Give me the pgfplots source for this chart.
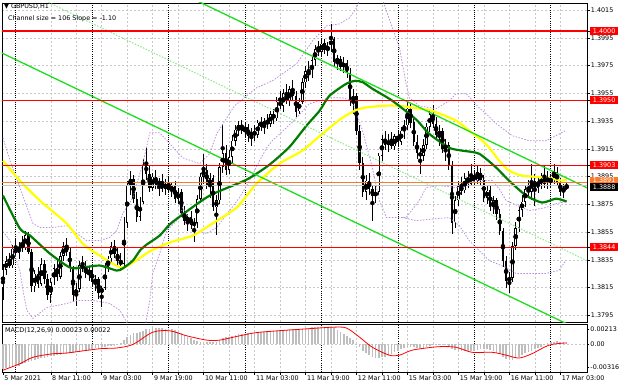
\documentclass[border=0pt]{standalone}
\usepackage{pgfplots}
\pgfplotsset{compat=1.18}
\usepackage{pgfplotstable}
\usepackage{fontspec}
\setmainfont{DejaVu Sans}
\definecolor{chgreen}{RGB}{30,220,30}
\definecolor{midgreen}{RGB}{140,235,140}
\definecolor{magreen}{RGB}{0,125,0}
\definecolor{mayellow}{RGB}{255,255,0}
\definecolor{bandc}{RGB}{185,140,225}
\definecolor{gridc}{RGB}{200,200,200}
\definecolor{boxorange}{RGB}{255,120,40}
\definecolor{histc}{RGB}{190,190,190}

\pgfplotstableread{
i o h l c
0 1.3815 1.3832 1.3806 1.3828
1 1.3828 1.3838 1.3824 1.3834
2 1.3834 1.3840 1.3829 1.3831
3 1.3831 1.3846 1.3829 1.3843
4 1.3843 1.3850 1.3838 1.3840
5 1.3840 1.3848 1.3836 1.3846
6 1.3846 1.3852 1.3841 1.3844
7 1.3844 1.3856 1.3842 1.3853
8 1.3853 1.3855 1.3839 1.3841
9 1.3841 1.3843 1.3812 1.3816
10 1.3816 1.3828 1.3812 1.3825
11 1.3825 1.3830 1.3815 1.3818
12 1.3818 1.3836 1.3816 1.3832
13 1.3832 1.3835 1.3818 1.3821
14 1.3821 1.3825 1.3806 1.3810
15 1.3810 1.3822 1.3804 1.3819
16 1.3819 1.3832 1.3817 1.3829
17 1.3829 1.3835 1.3820 1.3823
18 1.3823 1.3841 1.3821 1.3838
19 1.3838 1.3848 1.3834 1.3845
20 1.3845 1.3851 1.3838 1.3841
21 1.3841 1.3844 1.3826 1.3829
22 1.3829 1.3831 1.3805 1.3810
23 1.3810 1.3818 1.3802 1.3814
24 1.3814 1.3834 1.3812 1.3831
25 1.3831 1.3838 1.3826 1.3829
26 1.3829 1.3834 1.3822 1.3825
27 1.3825 1.3831 1.3820 1.3828
28 1.3828 1.3830 1.3816 1.3819
29 1.3819 1.3824 1.3813 1.3821
30 1.3821 1.3823 1.3807 1.3811
31 1.3811 1.3816 1.3801 1.3815
32 1.3815 1.3833 1.3813 1.3830
33 1.3830 1.3838 1.3826 1.3836
34 1.3836 1.3848 1.3833 1.3845
35 1.3845 1.3849 1.3836 1.3839
36 1.3839 1.3844 1.3831 1.3834
37 1.3834 1.3840 1.3827 1.3832
38 1.3832 1.3866 1.3830 1.3862
39 1.3862 1.3892 1.3858 1.3889
40 1.3889 1.3899 1.3882 1.3893
41 1.3893 1.3896 1.3876 1.3879
42 1.3879 1.3884 1.3862 1.3866
43 1.3866 1.3880 1.3863 1.3877
44 1.3877 1.3908 1.3875 1.3904
45 1.3904 1.3916 1.3893 1.3897
46 1.3897 1.3903 1.3884 1.3887
47 1.3887 1.3898 1.3885 1.3895
48 1.3895 1.3900 1.3886 1.3889
49 1.3889 1.3894 1.3881 1.3892
50 1.3892 1.3897 1.3884 1.3886
51 1.3886 1.3893 1.3882 1.3890
52 1.3890 1.3895 1.3883 1.3885
53 1.3885 1.3891 1.3880 1.3888
54 1.3888 1.3892 1.3876 1.3879
55 1.3879 1.3887 1.3875 1.3884
56 1.3884 1.3886 1.3866 1.3869
57 1.3869 1.3874 1.3860 1.3863
58 1.3863 1.3868 1.3856 1.3866
59 1.3866 1.3870 1.3857 1.3860
60 1.3860 1.3865 1.3848 1.3862
61 1.3862 1.3882 1.3858 1.3879
62 1.3879 1.3898 1.3876 1.3895
63 1.3895 1.3911 1.3890 1.3900
64 1.3900 1.3904 1.3886 1.3889
65 1.3889 1.3898 1.3880 1.3894
66 1.3894 1.3896 1.3870 1.3873
67 1.3873 1.3882 1.3853 1.3878
68 1.3878 1.3905 1.3875 1.3902
69 1.3902 1.3933 1.3898 1.3912
70 1.3912 1.3918 1.3896 1.3900
71 1.3900 1.3914 1.3897 1.3909
72 1.3909 1.3925 1.3905 1.3921
73 1.3921 1.3932 1.3917 1.3929
74 1.3929 1.3935 1.3924 1.3932
75 1.3932 1.3936 1.3926 1.3928
76 1.3928 1.3934 1.3923 1.3931
77 1.3931 1.3933 1.3920 1.3924
78 1.3924 1.3930 1.3917 1.3927
79 1.3927 1.3932 1.3921 1.3925
80 1.3925 1.3936 1.3923 1.3934
81 1.3934 1.3938 1.3928 1.3931
82 1.3931 1.3937 1.3926 1.3935
83 1.3935 1.3940 1.3929 1.3933
84 1.3933 1.3942 1.3931 1.3940
85 1.3940 1.3944 1.3933 1.3937
86 1.3937 1.3952 1.3935 1.3949
87 1.3949 1.3957 1.3944 1.3946
88 1.3946 1.3958 1.3942 1.3955
89 1.3955 1.3962 1.3947 1.3950
90 1.3950 1.3960 1.3946 1.3958
91 1.3958 1.3965 1.3950 1.3953
92 1.3953 1.3957 1.3938 1.3942
93 1.3942 1.3952 1.3940 1.3949
94 1.3949 1.3966 1.3947 1.3963
95 1.3963 1.3975 1.3959 1.3971
96 1.3971 1.3978 1.3964 1.3968
97 1.3968 1.3982 1.3966 1.3979
98 1.3979 1.3990 1.3975 1.3987
99 1.3987 1.3993 1.3982 1.3985
100 1.3985 1.3995 1.3981 1.3991
101 1.3991 1.3994 1.3983 1.3986
102 1.3986 1.3992 1.3982 1.3989
103 1.3989 1.4005 1.3985 1.3994
104 1.3994 1.3996 1.3975 1.3978
105 1.3978 1.3983 1.3972 1.3980
106 1.3980 1.3982 1.3971 1.3974
107 1.3974 1.3981 1.3970 1.3977
108 1.3977 1.3979 1.3966 1.3970
109 1.3970 1.3973 1.3946 1.3950
110 1.3950 1.3958 1.3940 1.3953
111 1.3953 1.3955 1.3925 1.3928
112 1.3928 1.3932 1.3900 1.3905
113 1.3905 1.3909 1.3880 1.3884
114 1.3884 1.3896 1.3878 1.3892
115 1.3892 1.3898 1.3882 1.3886
116 1.3886 1.3889 1.3863 1.3881
117 1.3881 1.3889 1.3876 1.3884
118 1.3884 1.3912 1.3882 1.3910
119 1.3910 1.3925 1.3906 1.3922
120 1.3922 1.3928 1.3914 1.3918
121 1.3918 1.3926 1.3913 1.3921
122 1.3921 1.3927 1.3915 1.3917
123 1.3917 1.3926 1.3914 1.3924
124 1.3924 1.3929 1.3917 1.3920
125 1.3920 1.3931 1.3918 1.3928
126 1.3928 1.3936 1.3922 1.3932
127 1.3932 1.3950 1.3929 1.3944
128 1.3944 1.3948 1.3930 1.3934
129 1.3934 1.3937 1.3917 1.3920
130 1.3920 1.3925 1.3908 1.3912
131 1.3912 1.3916 1.3897 1.3910
132 1.3910 1.3922 1.3906 1.3918
133 1.3918 1.3934 1.3915 1.3931
134 1.3931 1.3944 1.3927 1.3940
135 1.3940 1.3947 1.3930 1.3933
136 1.3933 1.3938 1.3922 1.3925
137 1.3925 1.3932 1.3917 1.3928
138 1.3928 1.3930 1.3912 1.3915
139 1.3915 1.3922 1.3906 1.3918
140 1.3918 1.3920 1.3900 1.3903
141 1.3903 1.3906 1.3854 1.3862
142 1.3862 1.3881 1.3858 1.3878
143 1.3878 1.3892 1.3874 1.3888
144 1.3888 1.3895 1.3882 1.3885
145 1.3885 1.3898 1.3883 1.3894
146 1.3894 1.3899 1.3887 1.3890
147 1.3890 1.3904 1.3888 1.3896
148 1.3896 1.3900 1.3889 1.3892
149 1.3892 1.3903 1.3890 1.3898
150 1.3898 1.3901 1.3889 1.3893
151 1.3893 1.3896 1.3877 1.3880
152 1.3880 1.3889 1.3875 1.3885
153 1.3885 1.3888 1.3870 1.3873
154 1.3873 1.3881 1.3868 1.3878
155 1.3878 1.3880 1.3864 1.3868
156 1.3868 1.3872 1.3853 1.3856
157 1.3856 1.3858 1.3830 1.3834
158 1.3834 1.3838 1.3815 1.3820
159 1.3820 1.3826 1.3811 1.3822
160 1.3822 1.3848 1.3819 1.3845
161 1.3845 1.3862 1.3842 1.3858
162 1.3858 1.3874 1.3855 1.3871
163 1.3871 1.3882 1.3866 1.3877
164 1.3877 1.3889 1.3873 1.3886
165 1.3886 1.3893 1.3880 1.3884
166 1.3884 1.3904 1.3878 1.3892
167 1.3892 1.3897 1.3874 1.3887
168 1.3887 1.3895 1.3883 1.3893
169 1.3893 1.3898 1.3886 1.3890
170 1.3890 1.3903 1.3887 1.3895
171 1.3895 1.3899 1.3886 1.3891
172 1.3891 1.3897 1.3887 1.3894
173 1.3894 1.3904 1.3890 1.3898
174 1.3898 1.3902 1.3888 1.3891
175 1.3891 1.3894 1.3881 1.3884
176 1.3884 1.3890 1.3880 1.3887
177 1.3887 1.3891 1.3885 1.3888
}\candles

\pgfplotstableread{
i v
0 -0.00340
1 -0.00335
2 -0.00325
3 -0.00315
4 -0.00308
5 -0.00300
6 -0.00280
7 -0.00260
8 -0.00245
9 -0.00225
10 -0.00215
11 -0.00205
12 -0.00195
13 -0.00185
14 -0.00175
15 -0.00168
16 -0.00160
17 -0.00152
18 -0.00145
19 -0.00135
20 -0.00130
21 -0.00125
22 -0.00122
23 -0.00110
24 -0.00100
25 -0.00092
26 -0.00085
27 -0.00075
28 -0.00065
29 -0.00055
30 -0.00045
31 -0.00040
32 -0.00035
33 -0.00028
34 -0.00022
35 -0.00020
36 -0.00010
37 0.00015
38 0.00055
39 0.00100
40 0.00135
41 0.00155
42 0.00160
43 0.00170
44 0.00190
45 0.00210
46 0.00220
47 0.00225
48 0.00225
49 0.00228
50 0.00225
51 0.00222
52 0.00220
53 0.00215
54 0.00200
55 0.00180
56 0.00155
57 0.00130
58 0.00110
59 0.00085
60 0.00060
61 0.00045
62 0.00035
63 0.00035
64 0.00030
65 0.00030
66 0.00028
67 0.00040
68 0.00065
69 0.00090
70 0.00100
71 0.00110
72 0.00120
73 0.00130
74 0.00140
75 0.00145
76 0.00150
77 0.00155
78 0.00162
79 0.00165
80 0.00170
81 0.00172
82 0.00175
83 0.00178
84 0.00182
85 0.00185
86 0.00190
87 0.00195
88 0.00200
89 0.00205
90 0.00210
91 0.00210
92 0.00205
93 0.00210
94 0.00220
95 0.00230
96 0.00235
97 0.00240
98 0.00245
99 0.00245
100 0.00245
101 0.00245
102 0.00242
103 0.00245
104 0.00225
105 0.00200
106 0.00175
107 0.00150
108 0.00120
109 0.00090
110 0.00055
111 0.00010
112 -0.00040
113 -0.00090
114 -0.00120
115 -0.00150
116 -0.00175
117 -0.00190
118 -0.00185
119 -0.00180
120 -0.00175
121 -0.00155
122 -0.00135
123 -0.00110
124 -0.00085
125 -0.00070
126 -0.00055
127 -0.00040
128 -0.00038
129 -0.00040
130 -0.00045
131 -0.00050
132 -0.00045
133 -0.00035
134 -0.00025
135 -0.00015
136 -0.00010
137 -0.00005
138 -0.00005
139 -0.00015
140 -0.00030
141 -0.00065
142 -0.00080
143 -0.00085
144 -0.00088
145 -0.00090
146 -0.00090
147 -0.00090
148 -0.00085
149 -0.00078
150 -0.00070
151 -0.00065
152 -0.00070
153 -0.00080
154 -0.00095
155 -0.00115
156 -0.00140
157 -0.00170
158 -0.00200
159 -0.00220
160 -0.00215
161 -0.00195
162 -0.00170
163 -0.00145
164 -0.00125
165 -0.00105
166 -0.00085
167 -0.00070
168 -0.00050
169 -0.00030
170 -0.00005
171 0.00015
172 0.00030
173 0.00040
174 0.00045
175 0.00035
176 0.00028
177 0.00023
}\macd

\begin{document}
\begin{tikzpicture}[font=\fontsize{6.4}{7.4}\selectfont]
\path[fill=white] (0pt,0pt) rectangle (620pt,388pt);
\begin{axis}[
  at={(2pt,66pt)}, anchor=south west, scale only axis,
  width=586pt, height=320pt,
  xmin=-0.31, xmax=183.39, ymin=1.37899, ymax=1.40201,
  axis line style={black, line width=0.7pt},
  scaled x ticks=false, scaled y ticks=false,
  xtick={15,23,...,175}, xticklabels={}, xticklabel style={text opacity=0}, xtick style={draw=none},
  ytick={1.3795,1.3815,1.3835,1.3855,1.3875,1.3895,1.3915,1.3935,1.3955,1.3975,1.3995,1.4015},
  yticklabels={1.3795,1.3815,1.3835,1.3855,1.3875,1.3895,1.3915,1.3935,1.3955,1.3975,1.3995,1.4015},
  ytick pos=right, yticklabel pos=right, tick align=outside, major tick length=3pt,
  ytick style={black, line width=0.5pt},
  yticklabel style={anchor=west, inner sep=0.8pt, font=\fontsize{6.4}{7.4}\selectfont},
  grid=major, major grid style={gridc, dash pattern=on 2pt off 2pt, line width=0.5pt},
  extra y ticks={1.4000,1.3950,1.3903,1.3844},
  extra y tick labels={1.4000,1.3950,1.3903,1.3844},
  extra y tick style={grid=none, yticklabel style={fill=red, text=white, minimum width=28pt, minimum height=8pt, inner sep=0.8pt}},
  /pgf/number format/assume math mode=true,
]
\pgfplotsinvokeforeach{4,28,52,76,100,124,148,172}{
  \draw[black, line width=0.5pt, dash pattern=on 1pt off 1.2pt] (axis cs:#1,1.37899) -- (axis cs:#1,1.40201);
}
% wicks
\addplot[only marks, mark=none, error bars/.cd, y dir=both, y explicit, error mark=none,
  error bar style={black, line width=0.7pt}]
  table[x=i, y expr={(\thisrow{h}+\thisrow{l})/2}, y error expr={(\thisrow{h}-\thisrow{l})/2}] {\candles};
% bearish bodies
\addplot[only marks, mark=none, restrict expr to domain={\thisrow{o}-\thisrow{c}}{0.00001:1},
  error bars/.cd, y dir=both, y explicit, error mark=none,
  error bar style={black, line width=2.4pt}]
  table[x=i, y expr={(\thisrow{o}+\thisrow{c})/2}, y error expr={abs(\thisrow{o}-\thisrow{c})/2}] {\candles};
% bullish bodies outline
\addplot[only marks, mark=none, restrict expr to domain={\thisrow{c}-\thisrow{o}}{0:1},
  error bars/.cd, y dir=both, y explicit, error mark=none,
  error bar style={black, line width=2.4pt}]
  table[x=i, y expr={(\thisrow{o}+\thisrow{c})/2}, y error expr={max(abs(\thisrow{c}-\thisrow{o})/2,0.00004)}] {\candles};
% bullish bodies fill
\addplot[only marks, mark=none, restrict expr to domain={\thisrow{c}-\thisrow{o}}{0:1},
  error bars/.cd, y dir=both, y explicit, error mark=none,
  error bar style={white, line width=1.0pt}]
  table[x=i, y expr={(\thisrow{o}+\thisrow{c})/2}, y error expr={max(abs(\thisrow{c}-\thisrow{o})/2-0.00005,0)}] {\candles};
% bands
\addplot[bandc, line width=0.75pt, dash pattern=on 1.5pt off 1.5pt] coordinates {
(0,1.39230) (2.2,1.39065) (5.3,1.38871) (9.4,1.38612) (11.6,1.38583) (15.7,1.38583) (20.1,1.38597) (21.9,1.38561) (26.3,1.38489) (30.4,1.38489) (33.5,1.38511) (35.7,1.38561) (37.6,1.38683) (40.8,1.38799) (43.9,1.39043) (46.1,1.39266) (49.2,1.39266) (56.4,1.39086) (61.8,1.39043) (64.9,1.39115) (67.1,1.39259) (72.7,1.39460) (79.6,1.39590) (84.6,1.39640) (87.8,1.39691) (92.2,1.39763) (97.2,1.39928) (101.6,1.40036) (105.6,1.40050) (108.8,1.40094) (111,1.40165) (112.5,1.40252) (118.2,1.40288) (122.3,1.40022) (124.5,1.39878) (126.6,1.39619) (127.6,1.39518) (130.7,1.39460) (136,1.39439) (140.1,1.39496) (142.3,1.39547) (145.5,1.39547) (149.5,1.39446) (151.7,1.39403) (154.9,1.39331) (159.9,1.39245) (165.2,1.39209) (170.5,1.39209) (173.7,1.39245) (176.6,1.39281)};
\addplot[bandc, line width=0.75pt, dash pattern=on 1.5pt off 1.5pt] coordinates {
(0,1.38554) (2.2,1.38489) (5.3,1.38273) (6.3,1.38129) (7.5,1.37986) (9.4,1.37928) (13.8,1.38007) (20.1,1.38036) (23.2,1.38058) (28.2,1.38058) (33.5,1.38036) (36.7,1.37986) (38.9,1.37899) (41.4,1.37770) (44.5,1.37850) (46.1,1.38058) (47,1.38252) (49.2,1.38396) (51.4,1.38561) (55.5,1.38655) (56.4,1.38727) (60.8,1.38561) (64,1.38540) (67.1,1.38583) (74.3,1.38799) (77.4,1.38921) (80.6,1.39065) (82.8,1.39158) (84.6,1.39209) (89,1.39302) (92.2,1.39374) (96.2,1.39475) (99.4,1.39496) (102.5,1.39518) (106.6,1.39518) (109.7,1.39496) (112.9,1.39281) (116,1.39014) (118.2,1.38777) (120.4,1.38655) (126.6,1.38655) (130.7,1.38777) (132.9,1.38871) (137,1.38885) (142.3,1.38871) (148.6,1.38921) (153.6,1.38921) (155.8,1.38863) (158,1.38777) (165.2,1.38705) (170.5,1.38727) (173.7,1.38755) (176.8,1.38770)};
\addplot[bandc, line width=0.75pt, dash pattern=on 1.5pt off 1.5pt] coordinates {
(125.4,1.38655) (129.8,1.38633) (140.1,1.38655) (143.3,1.38597) (146.4,1.38489) (152.7,1.38345) (158,1.38295) (161.1,1.38252) (165.2,1.38252) (170.5,1.38252) (174.5,1.38273) (176.8,1.38345)};
% moving averages
\addplot[mayellow, line width=2.2pt, smooth, tension=0.4] coordinates {
(0,1.39065) (5.3,1.38921) (11.6,1.38777) (20,1.38612) (25,1.38468) (30.4,1.38381) (37.6,1.38295) (46,1.38410) (52.4,1.38475) (59.6,1.38525) (65.8,1.38612) (73.4,1.38727) (79.6,1.38899) (86.8,1.39043) (94,1.39137) (100.3,1.39259) (106.6,1.39374) (112,1.39439) (119,1.39460) (124.5,1.39460) (130.7,1.39439) (134.8,1.39424) (142.3,1.39353) (146.4,1.39281) (150.5,1.39209) (152.7,1.39158) (155.8,1.39065) (158.9,1.38993) (163,1.38957) (170.5,1.38942) (175.5,1.38921) (177,1.38928)};
\addplot[magreen, line width=2.2pt, smooth, tension=0.4] coordinates {
(0,1.38813) (5.3,1.38576) (8.5,1.38525) (14.7,1.38396) (21,1.38295) (25,1.38295) (30.4,1.38309) (35.7,1.38273) (37.6,1.38288) (40.8,1.38345) (43,1.38417) (45.1,1.38460) (49.2,1.38525) (52.3,1.38604) (55.5,1.38662) (64.9,1.38813) (76.5,1.38928) (83.7,1.39036) (90,1.39165) (95.3,1.39317) (99.4,1.39424) (102.5,1.39532) (107.8,1.39619) (110.6,1.39640) (113,1.39630) (116,1.39583) (122.3,1.39496) (129.8,1.39360) (133.8,1.39259) (140.1,1.39158) (144.2,1.39137) (149.5,1.39115) (154.9,1.39014) (158.9,1.38921) (164.3,1.38813) (169.3,1.38763) (173.7,1.38791) (177,1.38770)};
% channel
\addplot[chgreen, line width=1.3pt] coordinates {(-1,1.408978) (184,1.388628)};
\addplot[midgreen, line width=1pt, dash pattern=on 1.5pt off 1.5pt] coordinates {(-1,1.403728) (184,1.383378)};
\addplot[chgreen, line width=1.3pt] coordinates {(-1,1.398478) (184,1.378128)};
% horizontal levels
\addplot[red, line width=1.4pt] coordinates {(-1,1.4000) (184,1.4000)};
\addplot[red, line width=1.4pt] coordinates {(-1,1.3950) (184,1.3950)};
\addplot[red, line width=1.4pt] coordinates {(-1,1.3903) (184,1.3903)};
\addplot[red, line width=1.4pt] coordinates {(-1,1.3844) (184,1.3844)};
\addplot[boxorange, line width=0.5pt] coordinates {(-1,1.3891) (184,1.3891)};
\addplot[gray!45, line width=0.9pt] coordinates {(-1,1.38885) (184,1.38885)};
\coordinate (p3891) at (axis cs:183.39,1.3891);
\coordinate (p3888) at (axis cs:183.39,1.38885);
\end{axis}
\node[fill=boxorange, text=white, anchor=west, minimum width=28pt, minimum height=7pt, inner sep=0.8pt] at ([xshift=3pt,yshift=1.5pt]p3891) {1.3891};
\node[fill=black, text=white, anchor=west, minimum width=28pt, minimum height=8pt, inner sep=0.8pt] at ([xshift=3pt,yshift=-1.5pt]p3888) {1.3888};

\begin{axis}[
  at={(2pt,16pt)}, anchor=south west, scale only axis,
  width=586pt, height=48pt,
  xmin=-0.31, xmax=183.39, ymin=-0.0039, ymax=0.00279,
  axis line style={black, line width=0.7pt},
  scaled x ticks=false, scaled y ticks=false,
  xtick={15,23,...,175},
  xticklabels={8 Mar 11:00,{},9 Mar 03:00,{},9 Mar 19:00,{},10 Mar 11:00,{},11 Mar 03:00,{},11 Mar 19:00,{},12 Mar 11:00,{},15 Mar 03:00,{},15 Mar 19:00,{},16 Mar 11:00,{},17 Mar 03:00},
  extra x ticks={0}, extra x tick labels={5 Mar 2021}, extra x tick style={grid=none},
  xmajorgrids, major grid style={gridc, dash pattern=on 2pt off 2pt, line width=0.5pt},
  xtick pos=bottom, tick align=outside, major tick length=2.5pt,
  tick style={black, line width=0.5pt},
  xticklabel style={anchor=north west, inner sep=0.8pt, xshift=0.5pt, font=\fontsize{6.4}{7.4}\selectfont},
  ytick={-0.00316,0,0.00213}, yticklabels={-0.00316,0.00,0.00213},
  ytick pos=right, yticklabel pos=right,
  yticklabel style={anchor=west, inner sep=0.8pt, font=\fontsize{6.4}{7.4}\selectfont},
  /pgf/number format/assume math mode=true,
]
\pgfplotsinvokeforeach{4,28,52,76,100,124,148,172}{
  \draw[black, line width=0.5pt, dash pattern=on 1pt off 1.2pt] (axis cs:#1,-0.0039) -- (axis cs:#1,0.00279);
}
\addplot[gridc, line width=0.5pt, dash pattern=on 2pt off 2pt] coordinates {(-1,0) (184,0)};
\addplot[ycomb, histc, line width=1.6pt] table[x=i, y=v] {\macd};
\addplot[red, line width=0.8pt, smooth, tension=0.5] coordinates {
(0,-0.00360) (5.3,-0.00270) (9.4,-0.00180) (15.7,-0.00130) (20,-0.00120) (30.4,-0.00060) (35.7,-0.00050) (40.8,0) (47,0.00170) (52.4,0.00190) (57.7,0.00120) (64,0.00060) (68,0.00060) (74.3,0.00120) (80.6,0.00170) (96.2,0.00220) (103.4,0.00240) (107.8,0.00230) (112,0.00100) (116,-0.00040) (121.3,-0.00150) (124.5,-0.00150) (128.5,-0.00080) (134.8,-0.00040) (137.9,-0.00030) (142.3,-0.00040) (147.3,-0.00110) (153.6,-0.00110) (158,-0.00150) (162,-0.00190) (166.1,-0.00130) (171.5,-0.00010) (177,0.00022)};
\end{axis}

\node[anchor=west, inner sep=0pt] at (4pt,382pt) {▼ GBPUSD,H1};
\node[anchor=west, inner sep=0pt] at (8pt,370pt) {Channel size = 106 Slope = -1.10};
\node[anchor=west, inner sep=0pt] at (5pt,58pt) {MACD(12,26,9) 0.00023 0.00022};
\end{tikzpicture}
\end{document}
